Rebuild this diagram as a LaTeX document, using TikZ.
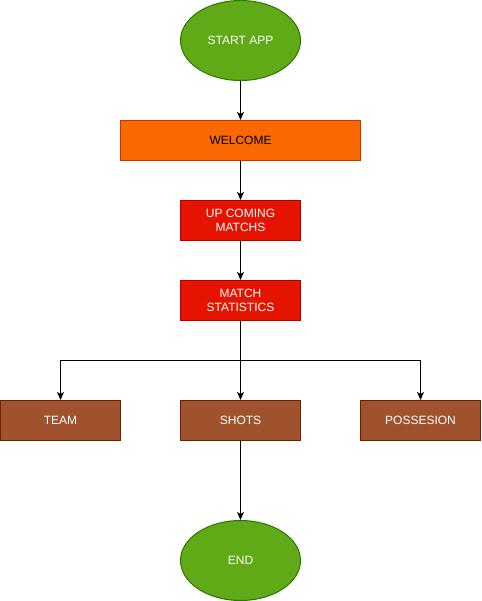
\documentclass[tikz,border=0pt]{standalone}
\usepackage{fontspec}
\setmainfont{Liberation Sans}
\usetikzlibrary{arrows.meta,shapes.geometric}
\definecolor{gfill}{HTML}{60A917}\definecolor{gline}{HTML}{2D7600}
\definecolor{ofill}{HTML}{FA6800}\definecolor{oline}{HTML}{C73500}
\definecolor{rfill}{HTML}{E51400}\definecolor{rline}{HTML}{B20000}
\definecolor{bfill}{HTML}{A0522D}\definecolor{bline}{HTML}{6D1F00}
\begin{document}
\begin{tikzpicture}[x=1pt,y=-1pt,
  every node/.style={font=\fontsize{12}{14}\selectfont, align=center, inner sep=0pt, line width=1pt},
  term/.style={ellipse, draw=gline, fill=gfill, text=white, minimum width=120pt, minimum height=80pt},
  wbox/.style={rectangle, draw=oline, fill=ofill, text=black, minimum width=240pt, minimum height=40pt},
  rbox/.style={rectangle, draw=rline, fill=rfill, text=white, minimum width=120pt, minimum height=40pt},
  bbox/.style={rectangle, draw=bline, fill=bfill, text=white, minimum width=120pt, minimum height=40pt},
  conn/.style={draw=black, line width=1pt, -{Stealth[length=8pt,width=7pt,inset=2pt]}}]
\useasboundingbox (-0.5,-0.5) rectangle (480.5,600.5);
\node[term] (start) at (240,40) {START APP};
\node[wbox] (welcome) at (240,140) {WELCOME};
\node[rbox] (upcoming) at (240,220) {UP COMING\\MATCHS};
\node[rbox] (stats) at (240,300) {MATCH\\STATISTICS};
\node[bbox] (team) at (60,420) {TEAM};
\node[bbox] (shots) at (240,420) {SHOTS};
\node[bbox] (poss) at (420,420) {POSSESION};
\node[term] (end) at (240,560) {END};
\coordinate (jl) at (60,360);
\coordinate (jr) at (420,360);
\draw[conn] (start) -- (welcome);
\draw[conn] (welcome) -- (upcoming);
\draw[conn] (upcoming) -- (stats);
\draw[conn] (stats) -- (shots);
\draw[conn] (stats.south) |- (jl) -- (team);
\draw[conn] (stats.south) |- (jr) -- (poss);
\draw[conn] (shots) -- (end);
\end{tikzpicture}
\end{document}
